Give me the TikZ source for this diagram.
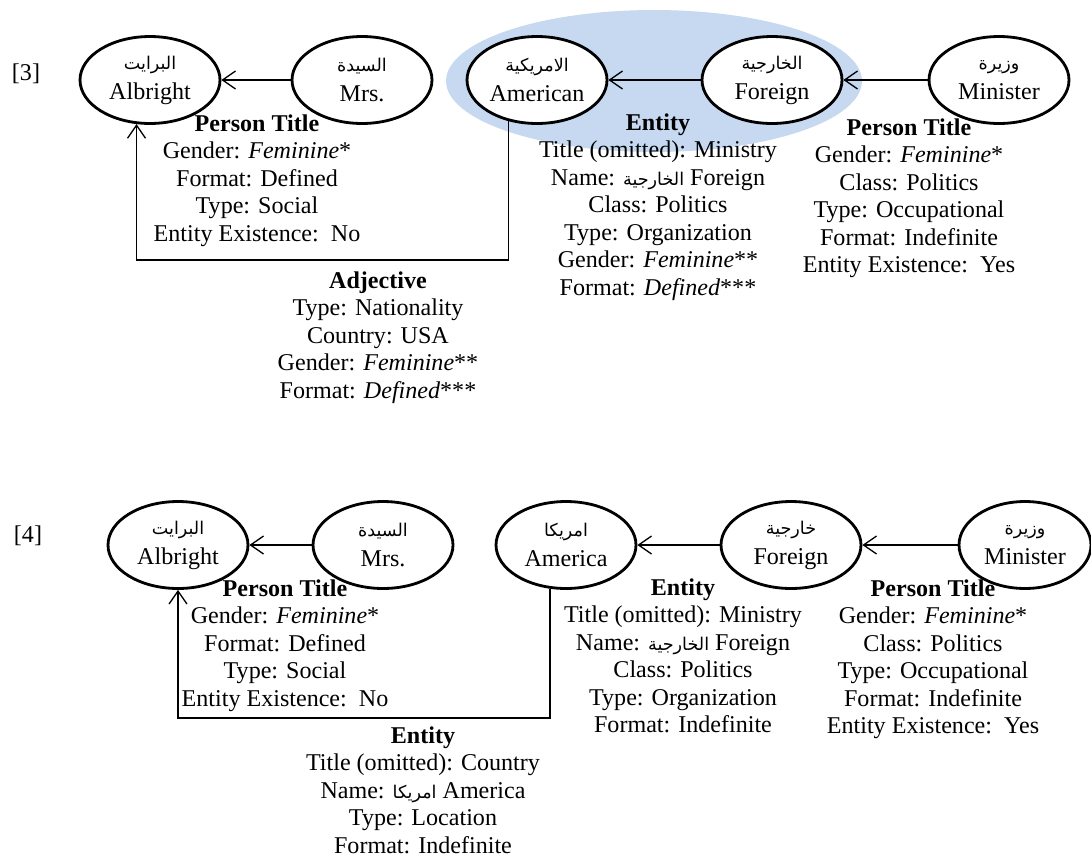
\documentclass[tikz,border=0pt]{standalone}
\usepackage{fontspec}
\setmainfont{Liberation Serif}
\newfontfamily\arabicfont[Script=Arabic]{DejaVu Sans}
\TeXXeTstate=1
\usetikzlibrary{positioning,shapes.geometric,arrows.meta}
\definecolor{hilite}{RGB}{198,217,240}
\newcommand{\arw}[1]{{\arabicfont\fontsize{10}{11}\selectfont\beginR #1\endR}}

\begin{document}
\begin{tikzpicture}[x=0.02cm,y=-0.02cm,
  word/.style={ellipse,draw=black,line width=1.6pt,fill=white,minimum width=2.8cm,
    minimum height=1.74cm,align=center,font=\fontsize{13.7}{17}\selectfont},
  attr/.style={align=center,anchor=north,font=\fontsize{13.7}{15.7}\selectfont},
  conn/.style={draw=black,line width=0.75pt,-{Straight Barb[length=0.26cm,width=0.36cm]}}]
\tikzstyle{every node}+=[inner sep=0pt]
\useasboundingbox (0,0) rectangle (1091,859);
\fill [hilite] (654,81) ellipse [x radius=4.16cm,y radius=1.42cm];
\node at (26,74) {\fontsize{13.7}{15.9}\selectfont [3]};
\node[word] (albr) at (150,80) {\arw{البرايت}\\Albright};
\node[word] (mrs) at (362,80) {\arw{السيدة}\\Mrs.};
\node[word] (amer) at (537,80) {\arw{الامريكية}\\American};
\node[word] (forn) at (772,80) {\arw{الخارجية}\\Foreign};
\node[word] (mini) at (999,80) {\arw{وزيرة}\\Minister};
\coordinate (adjlow) at (0,260);
\draw [conn] (mrs) -- (albr);
\draw [conn] (forn) -- (amer);
\draw [conn] (mini) -- (forn);
\draw [conn] (amer.235) |- (albr.253 |- adjlow) -- (albr.253);
\node[attr] (ptA) at (257,114) {\textbf{Person Title}\\Gender: \textit{Feminine}*\\Format: Defined\\Type: Social\\Entity Existence:\enspace No};
\node[attr] (adjA) at (378,271) {\textbf{Adjective}\\Type: Nationality\\Country: USA\\Gender: \textit{Feminine}**\\Format: \textit{Defined}***};
\node[attr] (entA) at (658,113) {\textbf{Entity}\\Title (omitted): Ministry\\Name: \arw{الخارجية} Foreign\\Class: Politics\\Type: Organization\\Gender: \textit{Feminine}**\\Format: \textit{Defined}***};
\node[attr] (ptB) at (909,118) {\textbf{Person Title}\\Gender: \textit{Feminine}*\\Class: Politics\\Type: Occupational\\Format: Indefinite\\Entity Existence:\enspace Yes};
\node at (28,536) {\fontsize{13.7}{15.9}\selectfont [4]};
\node[word] (albr2) at (178,545) {\arw{البرايت}\\Albright};
\node[word] (mrs2) at (383,545) {\arw{السيدة}\\Mrs.};
\node[word] (amer2) at (566,545) {\arw{امريكا}\\America};
\node[word] (forn2) at (791,545) {\arw{خارجية}\\Foreign};
\node[word,minimum width=2.64cm] (mini2) at (1025,545) {\arw{وزيرة}\\Minister};
\coordinate (entlow) at (0,718);
\draw [conn] (mrs2) -- (albr2);
\draw [conn] (forn2) -- (amer2);
\draw [conn] (mini2) -- (forn2);
\draw [conn] (amer2.250) |- (albr2.south |- entlow) -- (albr2.south);
\node[attr] (ptC) at (285,579) {\textbf{Person Title}\\Gender: \textit{Feminine}*\\Format: Defined\\Type: Social\\Entity Existence:\enspace No};
\node[attr] (entB) at (423,726) {\textbf{Entity}\\Title (omitted): Country\\Name: \arw{امريكا} America\\Type: Location\\Format: Indefinite};
\node[attr] (entC) at (683,578) {\textbf{Entity}\\Title (omitted): Ministry\\Name: \arw{الخارجية} Foreign\\Class: Politics\\Type: Organization\\Format: Indefinite};
\node[attr] (ptD) at (933,579) {\textbf{Person Title}\\Gender: \textit{Feminine}*\\Class: Politics\\Type: Occupational\\Format: Indefinite\\Entity Existence:\enspace Yes};
\end{tikzpicture}
\end{document}
